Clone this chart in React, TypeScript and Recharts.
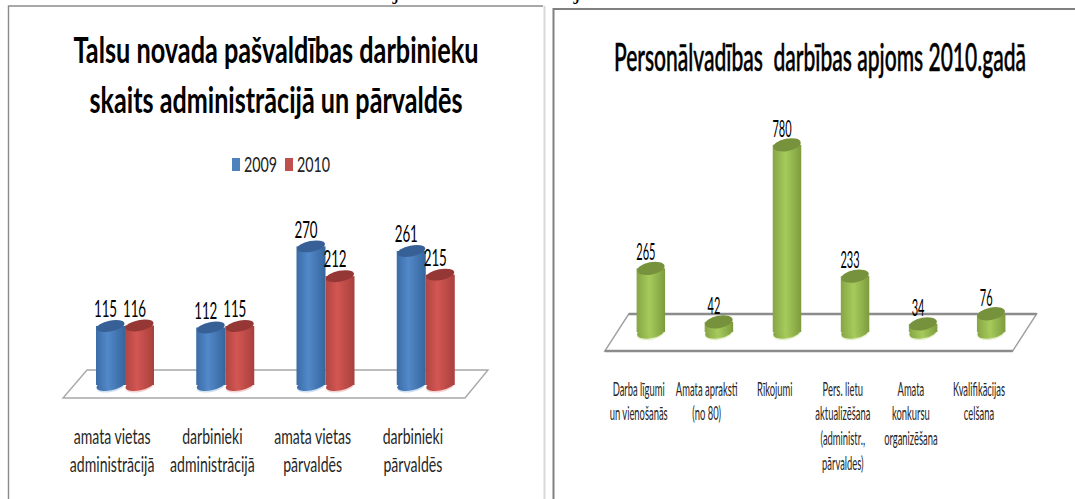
import React from 'react';
import { BarChart, Bar, XAxis, YAxis, Legend, LabelList } from 'recharts';

const staffCategories = [
  ['amata vietas', 'administrācijā'],
  ['darbinieki', 'administrācijā'],
  ['amata vietas', 'pārvaldēs'],
  ['darbinieki', 'pārvaldēs'],
];
const staff2009 = [115, 112, 270, 261];
const staff2010 = [116, 115, 212, 215];

const hrCategories = [
  ['Darba līgumi', 'un vienošanās'],
  ['Amata apraksti', '(no 80)'],
  ['Rīkojumi'],
  ['Pers. lietu', 'aktualizēšana', '(administr.,', 'pārvaldes)'],
  ['Amata', 'konkursu', 'organizēšana'],
  ['Kvalifikācijas', 'celšana'],
];
const hrValues = [265, 42, 780, 233, 34, 76];

const staffData = staffCategories.map((lines, i) => ({
  name: lines.join(' '),
  lines,
  y2009: staff2009[i],
  y2010: staff2010[i],
}));
const hrData = hrCategories.map((lines, i) => ({
  name: lines.join(' '),
  lines,
  value: hrValues[i],
}));

const FONT = 'Lato, "Liberation Sans", sans-serif';

// 3D look: a body with a horizontal gradient and a tilted dark ellipse on top
const cylinder = (gradient: string, topColor: string, glow: string, ry: number) => (props: any) => {
  const { x, y, width, height } = props;
  const cx = x + width / 2;
  const bottom = y + height;
  const rx = width / 2 - 0.3;
  return (
    <g>
      <ellipse cx={cx} cy={bottom + 1.6} rx={rx} ry={ry} fill={glow} transform={`rotate(-11 ${cx} ${bottom + 1.6})`} />
      <ellipse cx={cx} cy={bottom} rx={rx} ry={ry} fill={`url(#${gradient})`} transform={`rotate(-11 ${cx} ${bottom})`} />
      <rect x={x} y={y} width={width} height={height} fill={`url(#${gradient})`} />
      <ellipse cx={cx} cy={y} rx={rx} ry={ry} fill={topColor} transform={`rotate(-11 ${cx} ${y})`} />
    </g>
  );
};

const CategoryTick = (props: any) => {
  const { x, payload, data, size, lineY, pitch, sx, dx } = props;
  const lines: string[] = data[payload.index]?.lines ?? [];
  return (
    <g>
      {lines.map((line, i) => (
        <text
          key={line}
          transform={`translate(${x + dx}, ${lineY + i * pitch}) scale(${sx}, 1)`}
          textAnchor="middle"
          dominantBaseline="central"
          fontFamily={FONT}
          fontSize={size}
          fill="#262626"
        >
          {line}
        </text>
      ))}
    </g>
  );
};

const valueLabel = (size: number, sx: number, rise: number) => (props: any) => {
  const { x, y, width, value } = props;
  return (
    <text
      transform={`translate(${x + width / 2 - 5}, ${y - rise}) scale(${sx}, 1)`}
      textAnchor="middle"
      dominantBaseline="central"
      fontFamily={FONT}
      fontSize={size}
      fill="#000"
    >
      {value}
    </text>
  );
};

const StaffLegend = (props: any) => (
  <div style={{ display: 'flex', fontFamily: FONT, fontSize: 21, lineHeight: '20px', color: '#222' }}>
    {props.payload.map((item: any) => (
      <div key={item.value} style={{ display: 'flex', alignItems: 'center', flex: '0 0 53px', width: 53 }}>
        <span style={{ flex: '0 0 8px', height: 13, background: item.color, marginRight: 4 }} />
        <span style={{ flex: '0 0 auto', display: 'inline-block', transform: 'scaleX(0.68)', transformOrigin: 'left' }}>{item.value}</span>
      </div>
    ))}
  </div>
);

export default function App() {
  return (
    <div style={{ position: 'absolute', left: 0, top: 0, width: 1075, height: 499, overflow: 'hidden', background: '#fff' }}>
      <svg width={1075} height={499} style={{ position: 'absolute', left: 0, top: 0 }}>
        <defs>
          <linearGradient id="blueBody" x1="0" x2="1" y1="0" y2="0">
            <stop offset="0" stopColor="#3a6ca6" />
            <stop offset="0.4" stopColor="#5389c9" />
            <stop offset="1" stopColor="#35659c" />
          </linearGradient>
          <linearGradient id="redBody" x1="0" x2="1" y1="0" y2="0">
            <stop offset="0" stopColor="#b04542" />
            <stop offset="0.4" stopColor="#d35652" />
            <stop offset="1" stopColor="#a8403d" />
          </linearGradient>
          <linearGradient id="greenBody" x1="0" x2="1" y1="0" y2="0">
            <stop offset="0" stopColor="#86a544" />
            <stop offset="0.45" stopColor="#a6cb5c" />
            <stop offset="1" stopColor="#7d9b3e" />
          </linearGradient>
        </defs>

        {/* cropped line of the page above the charts */}
        <g fontFamily="Liberation Serif" fontSize={24} fill="#000">
          <text x={393} y={-1}>j</text>
          <text x={574} y={-1}>j</text>
        </g>

        {/* panel frames */}
        <path d="M8.5 499 V6 H543" fill="none" stroke="#8c8c8c" strokeWidth={1.4} />
        <path d="M553.5 499 V9 H1075" fill="none" stroke="#808080" strokeWidth={2} />
        <path d="M544.5 6 V499" fill="none" stroke="#d8d8d8" strokeWidth={2} />

        {/* chart floors */}
        <path d="M87 370 H488 L465 398 H63 Z" fill="#fff" stroke="#a8a8a8" strokeWidth={1.4} />
        <path d="M628.7 314 H1036.6 L1012.7 351 H604.8 Z" fill="#fff" stroke="#a0a0a0" strokeWidth={1.4} />
        <path d="M628.7 314 H1036.6" stroke="#8c8c8c" strokeWidth={2.4} />
        <path d="M604.8 351 H1012.7" stroke="#8c8c8c" strokeWidth={2.4} />

        {/* titles */}
        <g fontFamily={FONT} fontWeight={700} fontSize={37} fill="#000" textAnchor="middle">
          <text x={276} y={63} textLength={405} lengthAdjust="spacingAndGlyphs">Talsu novada pašvaldības darbinieku</text>
          <text x={276} y={113} textLength={373} lengthAdjust="spacingAndGlyphs">skaits administrācijā un pārvaldēs</text>
        </g>
        <text
          x={820}
          y={71}
          fontFamily={FONT}
          fontSize={38}
          fontWeight={500}
          stroke="#000"
          strokeWidth={0.5}
          textAnchor="middle"
          textLength={412}
          lengthAdjust="spacingAndGlyphs"
          fill="#000"
          style={{ whiteSpace: 'pre' }}
        >
          Personālvadības  darbības apjoms 2010.gadā
        </text>
      </svg>

      <div style={{ position: 'absolute', left: 0, top: 0 }}>
        <BarChart
          width={545}
          height={499}
          data={staffData}
          barSize={29}
          barGap={0}
          margin={{ top: 231, right: 69, bottom: 84, left: 75 }}
        >
          <XAxis
            dataKey="name"
            axisLine={false}
            tickLine={false}
            height={30}
            interval={0}
            tick={<CategoryTick data={staffData} size={21} lineY={436} pitch={27.5} sx={0.67} dx={-13} />}
          />
          <YAxis hide domain={[0, 300]} />
          <Legend
            verticalAlign="middle"
            layout="horizontal"
            content={<StaffLegend />}
            wrapperStyle={{ position: 'absolute', left: 232, top: 154, width: 110, height: 20 }}
          />
          <Bar dataKey="y2009" name="2009" fill="#4f81bd" isAnimationActive={false} shape={cylinder('blueBody', '#376196', '#cfe0f3', 5.4)}>
            <LabelList dataKey="y2009" content={valueLabel(23, 0.58, 18)} />
          </Bar>
          <Bar dataKey="y2010" name="2010" fill="#c0504d" isAnimationActive={false} shape={cylinder('redBody', '#953735', '#f3d3d2', 5.4)}>
            <LabelList dataKey="y2010" content={valueLabel(23, 0.58, 18)} />
          </Bar>
        </BarChart>
      </div>

      <div style={{ position: 'absolute', left: 545, top: 0 }}>
        <BarChart
          width={530}
          height={499}
          data={hrData}
          barSize={28.5}
          margin={{ top: 140, right: 50, bottom: 137, left: 71.6 }}
        >
          <XAxis
            dataKey="name"
            axisLine={false}
            tickLine={false}
            height={30}
            interval={0}
            tick={<CategoryTick data={hrData} size={20} lineY={388} pitch={24.7} sx={0.47} dx={-12} />}
          />
          <YAxis hide domain={[0, 800]} />
          <Bar dataKey="value" fill="#9bbb59" isAnimationActive={false} shape={cylinder('greenBody', '#76923c', '#e3efc8', 6.2)}>
            <LabelList dataKey="value" content={valueLabel(24, 0.46, 17)} />
          </Bar>
        </BarChart>
      </div>
    </div>
  );
}
